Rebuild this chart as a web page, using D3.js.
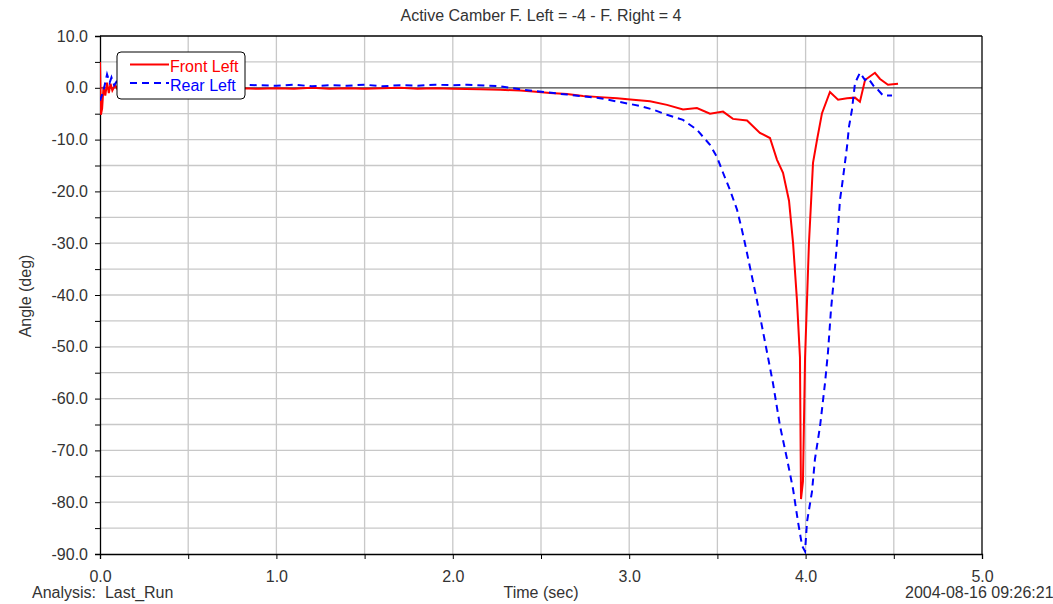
<!DOCTYPE html>
<html>
<head>
<meta charset="utf-8">
<script src="https://cdn.jsdelivr.net/npm/d3@7"></script>
<style>
  body { margin: 0; background: #fff; }
  text { font-family: "Liberation Sans", Arial, sans-serif; fill: #333; }
</style>
</head>
<body>
<div id="chart"></div>
<script>
var chartTitle = "Active Camber F. Left = -4 - F. Right = 4"
var xTicks = [0, 1, 2, 3, 4, 5]
var yTicks = [10, 0, -10, -20, -30, -40, -50, -60, -70, -80, -90]

// Front Left (red, solid)
var frontTime = [0, 0.005, 0.012, 0.02, 0.03, 0.04, 0.05, 0.06, 0.07, 0.085, 0.1,
  0.2, 0.3, 0.4, 0.5, 0.6, 0.7, 0.8, 0.9, 1.0, 1.1, 1.2, 1.3, 1.4, 1.5, 1.6, 1.7, 1.8, 1.9,
  2.0, 2.154, 2.268, 2.381, 2.455, 2.551, 2.647, 2.738, 2.834, 2.931, 3.022, 3.118, 3.214,
  3.305, 3.384, 3.458, 3.532, 3.588, 3.668, 3.741, 3.798, 3.838, 3.872, 3.906, 3.929,
  3.951, 3.968, 3.974, 3.985, 3.997, 4.008, 4.019, 4.031, 4.042, 4.065, 4.093, 4.138,
  4.184, 4.235, 4.28, 4.308, 4.337, 4.393, 4.422, 4.467, 4.524]
var frontAngle = [5.0, -5.2, -4.0, 0.2, -1.5, 1.0, -1.0, 0.8, -0.5, 0.5, -0.3,
  -0.1, -0.2, 0.0, -0.2, -0.1, -0.3, -0.1, -0.2, -0.1, -0.2, 0.0, -0.2, -0.1, -0.2, -0.1, 0.0, -0.2, -0.1,
  -0.2, -0.3, -0.4, -0.5, -0.7, -1.0, -1.2, -1.6, -1.8, -2.0, -2.3, -2.6, -3.3,
  -4.2, -3.9, -5.0, -4.6, -6.0, -6.3, -8.7, -9.7, -13.9, -16.4, -21.8, -30.0,
  -41.0, -52.0, -79.4, -76.0, -52.0, -41.0, -30.0, -22.0, -14.5, -10.0, -4.9, -0.8,
  -2.3, -2.0, -1.9, -2.7, 1.5, 2.9, 1.7, 0.6, 0.8]

// Rear Left (blue, dashed)
var rearTime = [0, 0.02, 0.04, 0.055, 0.065, 0.08, 0.1, 0.12,
  0.2, 0.3, 0.4, 0.5, 0.6, 0.7, 0.8, 0.9, 1.0, 1.1, 1.2, 1.3, 1.4, 1.5, 1.6, 1.7, 1.8, 1.9,
  2.0, 2.08, 2.268, 2.381, 2.455, 2.647, 2.834, 3.061, 3.135, 3.214, 3.305, 3.384, 3.458,
  3.498, 3.532, 3.571, 3.611, 3.639, 3.656, 3.724, 3.781, 3.815, 3.855, 3.895, 3.929,
  3.957, 3.98, 3.997, 4.008, 4.036, 4.053, 4.082, 4.11, 4.127, 4.144, 4.167, 4.178,
  4.195, 4.206, 4.223, 4.235, 4.246, 4.263, 4.28, 4.308, 4.337, 4.354, 4.393, 4.41,
  4.439, 4.49]
var rearAngle = [-2.5, -0.5, 2.6, 1.0, 2.0, 0.5, 1.5, 0.3,
  0.5, 0.3, 0.6, 0.4, 0.5, 0.3, 0.6, 0.5, 0.4, 0.6, 0.3, 0.5, 0.4, 0.6, 0.3, 0.5, 0.4, 0.6,
  0.5, 0.6, 0.3, -0.3, -0.6, -1.3, -2.0, -3.5, -4.2, -5.2, -6.2, -8.1, -11.0,
  -13.4, -16.4, -19.7, -23.5, -27.4, -30.0, -41.0, -51.0, -57.0, -65.3, -71.7, -77.5,
  -83.8, -88.4, -89.5, -83.8, -78.0, -71.7, -65.3, -57.0, -51.0, -42.8, -34.5, -29.9,
  -21.6, -19.0, -14.5, -11.3, -7.5, -4.2, 0.9, 2.9, 1.5, 1.9, 0.0, -0.4,
  -1.5, -1.5]

var width = 1053, height = 604
var margin = {left: 100, right: 71, top: 36, bottom: 50}
var innerW = width - margin.left - margin.right
var innerH = height - margin.top - margin.bottom
var fs = "16px"

var svg = d3.select("#chart").append("svg").attr("width", width).attr("height", height)

var x = d3.scaleLinear().domain([0, 5]).range([margin.left, margin.left + innerW])
var y = d3.scaleLinear().domain([-90, 10]).range([margin.top + innerH, margin.top])

// grid every 0.5 s and 5 deg
var g = svg.append("g")
g.selectAll(".vgrid").data(d3.range(0.5, 5, 0.5)).enter().append("line")
  .attr("x1", function(d){ return x(d) }).attr("x2", function(d){ return x(d) })
  .attr("y1", y(10)).attr("y2", y(-90))
  .attr("stroke", "#c8c8c8").attr("stroke-width", 1.3)
g.selectAll(".hgrid").data(d3.range(-85, 10, 5)).enter().append("line")
  .attr("y1", function(d){ return y(d) }).attr("y2", function(d){ return y(d) })
  .attr("x1", x(0)).attr("x2", x(5))
  .attr("stroke", function(d){ return d == 0 ? "#444" : "#c8c8c8" })
  .attr("stroke-width", 1.3)

// axes
var xAxis = d3.axisBottom(x).tickValues(d3.range(0, 5.01, 0.5)).tickSize(5)
  .tickFormat(function(d){ return xTicks.indexOf(d) >= 0 ? d.toFixed(1) : "" })
var yAxis = d3.axisLeft(y).tickValues(d3.range(-90, 10.01, 5)).tickSize(5)
  .tickFormat(function(d){ return yTicks.indexOf(d) >= 0 ? d.toFixed(1) : "" })

var gx = svg.append("g").attr("transform", "translate(0," + y(-90) + ")").call(xAxis)
var gy = svg.append("g").attr("transform", "translate(" + x(0) + ",0)").call(yAxis)
;[gx, gy].forEach(function(a){
  a.select(".domain").attr("stroke", "#000").attr("stroke-width", 1.3)
  a.selectAll(".tick line").attr("stroke", "#000")
  a.selectAll(".tick text").style("font-size", fs).attr("fill", "#333")
})
gx.selectAll(".tick text").attr("y", 17)
gy.selectAll(".tick text").attr("x", -12)

// top and right frame
svg.append("line").attr("x1", x(0)).attr("x2", x(5)).attr("y1", y(10)).attr("y2", y(10))
  .attr("stroke", "#000").attr("stroke-width", 1.3)
svg.append("line").attr("x1", x(5)).attr("x2", x(5)).attr("y1", y(10)).attr("y2", y(-90))
  .attr("stroke", "#000").attr("stroke-width", 1.3)

svg.append("clipPath").attr("id", "clip").append("rect")
  .attr("x", x(0)).attr("y", y(10)).attr("width", innerW).attr("height", innerH)

var line = d3.line().x(function(d){ return x(d[0]) }).y(function(d){ return y(d[1]) })
var front = d3.zip(frontTime, frontAngle)
var rear = d3.zip(rearTime, rearAngle)

var plot = svg.append("g").attr("clip-path", "url(#clip)")
plot.append("path").datum(front).attr("d", line)
  .attr("fill", "none").attr("stroke", "#ff0000").attr("stroke-width", 2)
plot.append("path").datum(rear).attr("d", line)
  .attr("fill", "none").attr("stroke", "#0000ff").attr("stroke-width", 2)
  .attr("stroke-dasharray", "7,5")

// legend
var leg = svg.append("g")
leg.append("rect").attr("x", 117).attr("y", 52).attr("width", 128).attr("height", 47)
  .attr("rx", 4).attr("fill", "#fff").attr("stroke", "#000").attr("stroke-width", 1)
leg.append("line").attr("x1", 130).attr("x2", 169).attr("y1", 64.5).attr("y2", 64.5)
  .attr("stroke", "#ff0000").attr("stroke-width", 2)
leg.append("line").attr("x1", 130).attr("x2", 169).attr("y1", 83).attr("y2", 83)
  .attr("stroke", "#0000ff").attr("stroke-width", 2).attr("stroke-dasharray", "7,5")
leg.append("text").attr("x", 170).attr("y", 72).text("Front Left")
  .style("font-size", fs).style("fill", "#ff0000")
leg.append("text").attr("x", 170).attr("y", 91).text("Rear Left")
  .style("font-size", fs).style("fill", "#0000ff")

// titles
svg.append("text").attr("x", 541).attr("y", 21).attr("text-anchor", "middle")
  .style("font-size", fs).text(chartTitle)
svg.append("text").attr("transform", "translate(31,296) rotate(-90)").attr("text-anchor", "middle")
  .style("font-size", fs).text("Angle (deg)")
svg.append("text").attr("x", 541).attr("y", 598).attr("text-anchor", "middle")
  .style("font-size", fs).text("Time (sec)")
svg.append("text").attr("x", 32).attr("y", 598)
  .style("font-size", fs).style("white-space", "pre").text("Analysis:  Last_Run")
svg.append("text").attr("x", 905).attr("y", 598)
  .style("font-size", fs).text("2004-08-16 09:26:21")
</script>
</body>
</html>
